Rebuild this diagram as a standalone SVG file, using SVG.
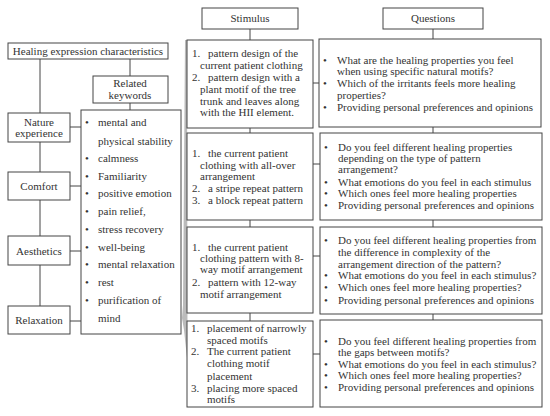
<svg xmlns="http://www.w3.org/2000/svg" width="550" height="416" viewBox="0 0 550 416">
<style>
text{font-family:"Liberation Serif","Times New Roman",serif;font-size:11px;fill:#333}
.c{text-anchor:middle}
rect{fill:#fff;stroke:#444;stroke-width:1}
line,polyline{stroke:#444;stroke-width:1;fill:none}
</style>
<rect x="0" y="0" width="550" height="416" style="fill:#fff;stroke:none"/>
<polygon points="185,40 187,40 187.5,330 188.5,372 184,330 182,318 183,305" fill="#bbb"/>
<g id="connectors">
<line x1="40" y1="59" x2="40" y2="306"/>
<line x1="130" y1="59" x2="130" y2="76"/>
<line x1="130" y1="103" x2="130" y2="110"/>
<line x1="70" y1="127" x2="81" y2="127"/>
<line x1="70" y1="186" x2="81" y2="186"/>
<line x1="70" y1="251" x2="81" y2="251"/>
<line x1="70" y1="321" x2="81" y2="321"/>
<line x1="250" y1="29" x2="250" y2="40"/>
<line x1="250" y1="128" x2="250" y2="133"/>
<line x1="250" y1="220" x2="250" y2="227"/>
<line x1="250" y1="313" x2="250" y2="321"/>
<line x1="433" y1="29" x2="433" y2="39"/>
<line x1="433" y1="127" x2="433" y2="133"/>
<line x1="433" y1="220" x2="433" y2="227"/>
<line x1="433" y1="314" x2="433" y2="320"/>
<line x1="313" y1="83" x2="319" y2="83"/>
<line x1="313" y1="164" x2="320" y2="164"/>
<line x1="313" y1="256" x2="320" y2="256"/>
<line x1="313" y1="354" x2="320" y2="354"/>
</g>
<g id="healing">
<rect x="8" y="43" width="160" height="16"/>
<text x="88" y="55" class="c">Healing expression characteristics</text>
</g>
<g id="related">
<rect x="93" y="76" width="75" height="27"/>
<text x="130" y="87" class="c">Related</text>
<text x="130" y="99" class="c">keywords</text>
</g>
<g id="nature">
<rect x="8" y="113" width="62" height="29"/>
<text x="39" y="126" class="c">Nature</text>
<text x="39" y="137" class="c">experience</text>
</g>
<g id="comfort">
<rect x="8" y="172" width="62" height="28"/>
<text x="39" y="190" class="c">Comfort</text>
</g>
<g id="aesthetics">
<rect x="8" y="236" width="62" height="29"/>
<text x="39" y="255" class="c">Aesthetics</text>
</g>
<g id="relaxation">
<rect x="8" y="306" width="62" height="28"/>
<text x="39" y="324" class="c">Relaxation</text>
</g>
<g id="keywords">
<rect x="81" y="110" width="100" height="224"/>
<text x="85" y="126">•</text><text x="98" y="126">mental and</text>
<text x="98" y="145">physical stability</text>
<text x="85" y="162">•</text><text x="98" y="162">calmness</text>
<text x="85" y="180">•</text><text x="98" y="180">Familiarity</text>
<text x="85" y="197">•</text><text x="98" y="197">positive emotion</text>
<text x="85" y="215">•</text><text x="98" y="215">pain relief,</text>
<text x="85" y="233">•</text><text x="98" y="233">stress recovery</text>
<text x="85" y="251">•</text><text x="98" y="251">well-being</text>
<text x="85" y="268">•</text><text x="98" y="268">mental relaxation</text>
<text x="85" y="286">•</text><text x="98" y="286">rest</text>
<text x="85" y="304">•</text><text x="98" y="304">purification of</text>
<text x="98" y="322">mind</text>
</g>
<g id="stimulus">
<rect x="202" y="8" width="96" height="21"/>
<text x="250" y="22" class="c">Stimulus</text>
</g>
<g id="questions">
<rect x="383" y="8" width="100" height="21"/>
<text x="433" y="22" class="c">Questions</text>
</g>
<g id="stim1">
<rect x="187" y="40" width="126" height="88"/>
<text x="192" y="57">1.</text><text x="208" y="57">pattern design of the</text>
<text x="200" y="69">current patient clothing</text>
<text x="192" y="81">2.</text><text x="208" y="81">pattern design with a</text>
<text x="200" y="93">plant motif of the tree</text>
<text x="200" y="104.5">trunk and leaves along</text>
<text x="200" y="116">with the HII element.</text>
</g>
<g id="stim2">
<rect x="187" y="133" width="126" height="87"/>
<text x="192" y="157">1.</text><text x="208" y="157">the current patient</text>
<text x="200" y="168.5">clothing with all-over</text>
<text x="200" y="180">arrangement</text>
<text x="192" y="192">2.</text><text x="208" y="192">a stripe repeat pattern</text>
<text x="192" y="204">3.</text><text x="208" y="204">a block repeat pattern</text>
</g>
<g id="stim3">
<rect x="187" y="227" width="126" height="86"/>
<text x="192" y="250.5">1.</text><text x="208" y="250.5">the current patient</text>
<text x="200" y="262">clothing pattern with 8-</text>
<text x="200" y="273">way motif arrangement</text>
<text x="192" y="285.5">2.</text><text x="208" y="285.5">pattern with 12-way</text>
<text x="200" y="297.5">motif arrangement</text>
</g>
<g id="stim4">
<rect x="187" y="321" width="126" height="86"/>
<text x="191" y="332">1.</text><text x="207" y="332">placement of narrowly</text>
<text x="207" y="344">spaced motifs</text>
<text x="191" y="355">2.</text><text x="207" y="355">The current patient</text>
<text x="207" y="367">clothing motif</text>
<text x="207" y="379.5">placement</text>
<text x="191" y="391.5">3.</text><text x="207" y="391.5">placing more spaced</text>
<text x="207" y="403">motifs</text>
</g>
<g id="q1">
<rect x="319" y="39" width="222" height="88"/>
<text x="323" y="64">•</text><text x="337" y="64">What are the healing properties you feel</text>
<text x="337" y="74.5">when using specific natural motifs?</text>
<text x="323" y="87">•</text><text x="337" y="87">Which of the irritants feels more healing</text>
<text x="337" y="98.5">properties?</text>
<text x="323" y="110.5">•</text><text x="337" y="110.5">Providing personal preferences and opinions</text>
</g>
<g id="q2">
<rect x="320" y="133" width="222" height="87"/>
<text x="324" y="150.5">•</text><text x="338" y="150.5">Do you feel different healing properties</text>
<text x="338" y="162">depending on the type of pattern</text>
<text x="338" y="173">arrangement?</text>
<text x="324" y="185.5">•</text><text x="338" y="185.5">What emotions do you feel in each stimulus</text>
<text x="324" y="196.5">•</text><text x="338" y="196.5">Which ones feel more healing properties</text>
<text x="324" y="208.5">•</text><text x="338" y="208.5">Providing personal preferences and opinions</text>
</g>
<g id="q3">
<rect x="320" y="227" width="222" height="87"/>
<text x="324" y="244">•</text><text x="338" y="244">Do you feel different healing properties from</text>
<text x="338" y="255.5">the difference in complexity of the</text>
<text x="338" y="267.5">arrangement direction of the pattern?</text>
<text x="324" y="279">•</text><text x="338" y="279">What emotions do you feel in each stimulus?</text>
<text x="324" y="291">•</text><text x="338" y="291">Which ones feel more healing properties?</text>
<text x="324" y="303.5">•</text><text x="338" y="303.5">Providing personal preferences and opinions</text>
</g>
<g id="q4">
<rect x="320" y="320" width="222" height="87"/>
<text x="324" y="344.5">•</text><text x="338" y="344.5">Do you feel different healing properties from</text>
<text x="338" y="355.5">the gaps between motifs?</text>
<text x="324" y="368">•</text><text x="338" y="368">What emotions do you feel in each stimulus?</text>
<text x="324" y="379">•</text><text x="338" y="379">Which ones feel more healing properties?</text>
<text x="324" y="391">•</text><text x="338" y="391">Providing personal preferences and opinions</text>
</g>
</svg>
